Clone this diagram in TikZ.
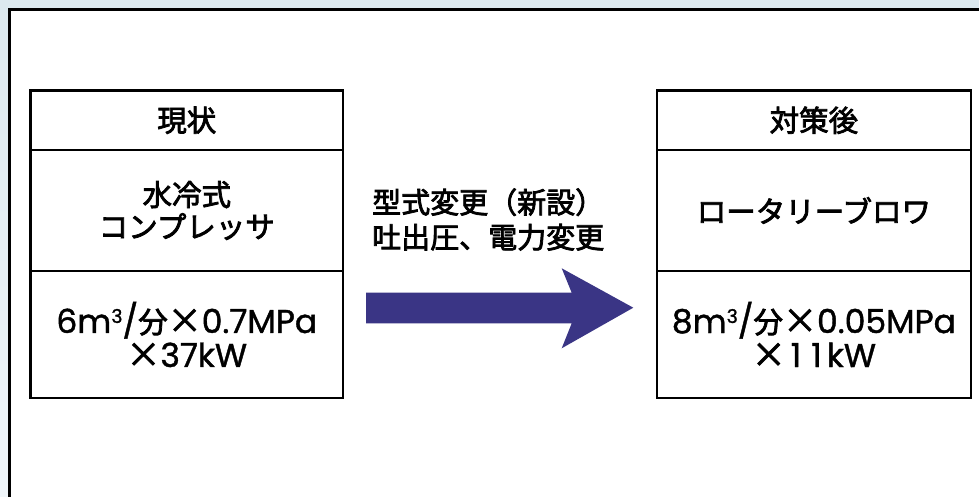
\documentclass[tikz,border=0pt]{standalone}
\usepackage{fontspec}
\setmainfont{Noto Sans CJK JP}[FakeBold=2.6]
\newfontfamily\jp{Noto Sans CJK JP}[FakeBold=2.6]
\newfontfamily\lat{Poppins}[FakeBold=1.2]
\newcommand\cubesup{\raisebox{10pt}{\fontsize{19}{19}\selectfont 3}}
\newcommand\tms{{\jp\fontsize{34}{34}\selectfont ×}}
\newcommand\one{\kern5pt 1\kern5pt}
\definecolor{arrowblue}{RGB}{58,53,133}
\definecolor{bgtop}{RGB}{220,233,239}
\definecolor{bgbot}{RGB}{240,246,250}
\begin{document}
\begin{tikzpicture}[x=1pt,y=-1pt,
  cell/.style={draw, line width=2.3pt, inner sep=0pt, outer sep=0pt, align=center,
    font=\fontsize{29.5}{32}\selectfont},
  numcell/.style={cell, font=\fontsize{33}{34}\selectfont},
  label/.style={inner sep=0pt, align=left, font=\fontsize{29}{35}\selectfont}]
\useasboundingbox (0,0) rectangle (979,497);
\clip (0,0) rectangle (979,497);
\shade[top color=bgtop, bottom color=bgbot] (0,0) rectangle (979,497);
\draw[line width=3pt, fill=white] (9,10) rectangle (1000,520);
% left column
\node[cell, minimum width=312.5pt, minimum height=59.5pt] (lh) at (186.8,120.25) {現状};
\node[cell, minimum width=312.5pt, minimum height=121pt] (lm) at (186.8,210.5) {水冷式\\コンプレッサ};
\node[numcell, minimum width=312.5pt, minimum height=127pt] (lb) at (186.8,334.5)
  {{\lat 6m\cubesup/}{\jp\fontsize{29.5}{34}\selectfont 分}\tms{\lat 0.7MPa}\\\tms{\lat 37kW}};
% right column
\node[cell, minimum width=314.3pt, minimum height=59.5pt] (rh) at (813.9,120.25) {対策後};
\node[cell, minimum width=314.3pt, minimum height=121pt] (rm) at (813.9,210.5) {ロータリーブロワ};
\node[numcell, minimum width=314.3pt, minimum height=127pt] (rb) at (813.9,334.5)
  {{\lat 8m\cubesup/}{\jp\fontsize{29.5}{34}\selectfont 分}\tms{\lat 0.05MPa}\\\tms{\lat\one\one kW}};
% arrow
\coordinate (a1) at (366,292.7);
\coordinate (a2) at (571.7,292.7);
\coordinate (a3) at (561.7,268.3);
\coordinate (tip) at (633.3,307.7);
\coordinate (a5) at (561.7,348.3);
\coordinate (a6) at (571.7,323.3);
\coordinate (a7) at (366,323.3);
\fill[arrowblue] (a1) -- (a2) -- (a3) -- (tip) -- (a5) -- (a6) -- (a7) -- cycle;
\node[label, anchor=west] (lab) at (372,219.5) {型式変更（新設）\\吐出圧、電力変更};
\end{tikzpicture}
\end{document}
